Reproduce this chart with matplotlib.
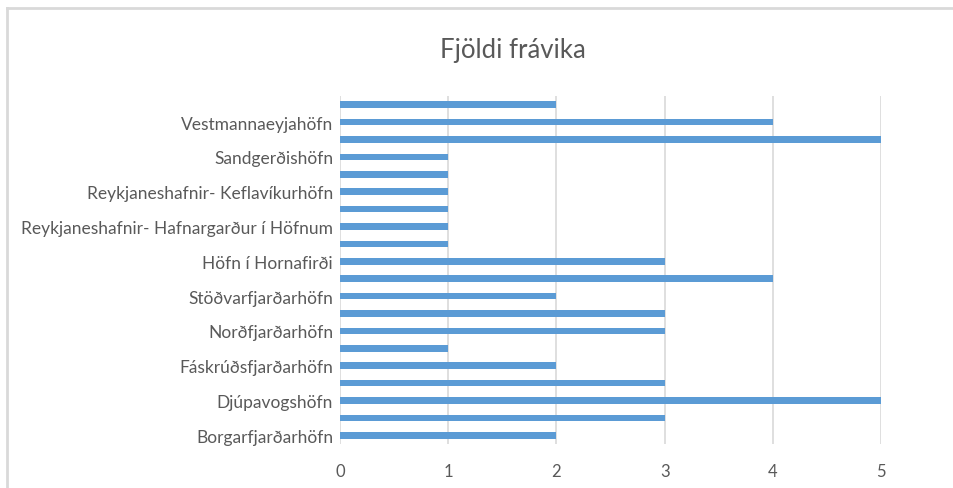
import numpy as np
import matplotlib
matplotlib.use("Agg")
import matplotlib.pyplot as plt
from matplotlib.lines import Line2D

# Values read bottom to top (20 bars, every other one labelled)
values = [2, 3, 5, 3, 2, 1, 3, 3, 2, 4, 3, 1, 1, 1, 1, 1, 1, 5, 4, 2]
labels = ["Borgarfjarðarhöfn", "Djúpavogshöfn", "Fáskrúðsfjarðarhöfn",
          "Norðfjarðarhöfn", "Stöðvarfjarðarhöfn", "Höfn í Hornafirði",
          "Reykjaneshafnir- Hafnargarður í Höfnum",
          "Reykjaneshafnir- Keflavíkurhöfn", "Sandgerðishöfn",
          "Vestmannaeyjahöfn"]
xticks = [0, 1, 2, 3, 4, 5]
title = "Fjöldi frávika"

txt = "#595959"
grid = "#d9d9d9"

plt.rcParams['font.family'] = ['Lato', 'DejaVu Sans']

fig = plt.figure(figsize=(9.54, 4.89), dpi=100)
ax = fig.add_axes([0.3564, 0.0900, 0.5671, 0.7117])

pos = np.arange(len(values))
ax.barh(pos, values, height=0.38, color="#5b9bd5", zorder=3)

ax.set_xlim(0, 5)
ax.set_ylim(-0.5, len(values) - 0.5)
ax.set_xticks(xticks)
ax.set_xticklabels([str(t) for t in xticks], color=txt, fontsize=12)
ax.set_yticks(pos[::2])
ax.set_yticklabels(labels, color=txt, fontsize=12.5)
ax.tick_params(length=0, pad=5)
ax.tick_params(axis='x', pad=14)
ax.grid(axis='x', color=grid, linewidth=1.2, zorder=0)
for s in ax.spines.values():
    s.set_visible(False)

fig.text(0.538, 0.897, title, ha='center', va='center', fontsize=18.5, color=txt)

# chart area frame (left and top edges visible)
fig.add_artist(Line2D([7 / 954, 7 / 954], [0, 1 - 8.5 / 489], color=grid, linewidth=2))
fig.add_artist(Line2D([7 / 954, 1], [1 - 8.5 / 489, 1 - 8.5 / 489], color=grid, linewidth=2))

fig.savefig("out.png", dpi=100)
